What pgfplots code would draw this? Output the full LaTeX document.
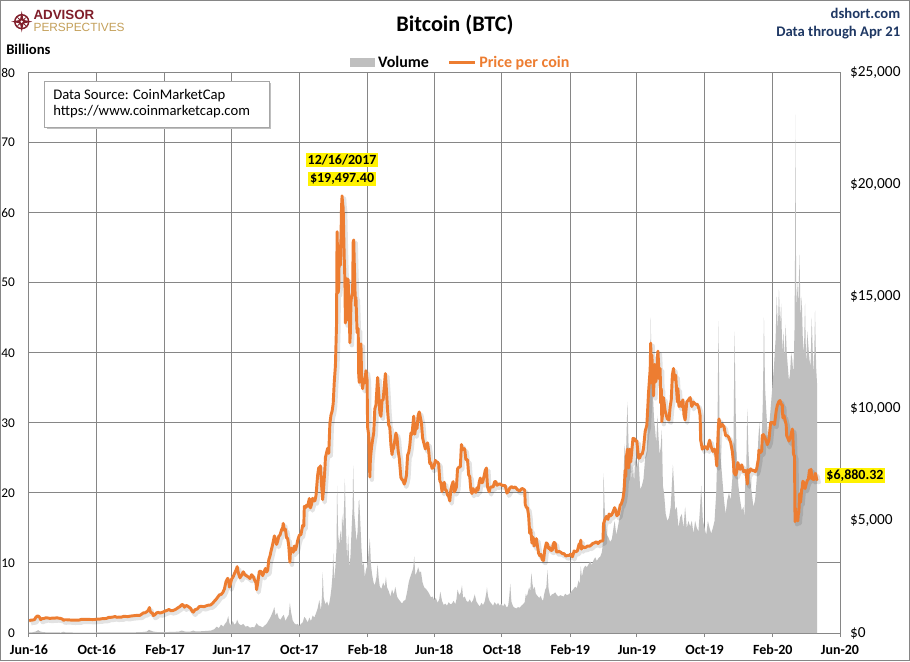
\documentclass[border=0pt]{standalone}
\usepackage{fontspec}
\setmainfont{Carlito}
\newfontfamily\arialfont{Liberation Sans}
\usepackage{pgfplots}
\pgfplotsset{compat=1.18}
\usepackage{pgfplotstable}
\definecolor{volgray}{RGB}{191,191,191}
\definecolor{btcorange}{RGB}{237,125,49}
\definecolor{gridgray}{RGB}{134,134,134}
\definecolor{navy}{RGB}{31,56,100}
\definecolor{apred}{RGB}{128,30,42}
\definecolor{apgold}{RGB}{196,160,90}

\pgfplotstableread{
d p
0 540
3 572
7 580
10 600
12 690
15 760
17 750
19 700
21 600
24 640
27 650
30 675
34 670
38 650
42 665
46 660
50 680
54 660
57 650
60 625
62 560
64 590
68 590
72 585
76 575
80 570
85 578
90 575
94 605
98 610
102 608
108 606
114 600
118 603
122 615
127 617
132 640
136 640
140 655
144 700
148 700
152 715
155 735
158 700
162 710
166 705
170 740
174 740
178 730
183 755
188 770
192 780
196 790
200 790
204 860
206 895
209 900
211 930
213 963
215 1020
217 1135
218 1000
220 900
222 905
224 780
227 820
230 900
233 920
236 890
240 920
245 975
249 1010
252 1050
256 990
260 1010
264 1050
268 1120
272 1180
275 1260
277 1270
280 1150
283 1230
287 1180
291 1100
294 970
296 930
299 1040
303 1070
307 1180
311 1190
315 1170
319 1210
323 1240
327 1250
331 1330
334 1420
337 1500
340 1600
343 1700
346 1720
349 1800
352 1960
355 2300
358 2440
360 2300
361 2050
363 2200
365 2400
368 2520
371 2700
374 2870
375 2960
377 2690
380 2460
383 2580
386 2730
389 2590
392 2550
395 2500
398 2430
401 2600
404 2510
407 2330
409 2230
410 1930
412 2230
414 2580
415 2750
418 2750
421 2560
424 2760
426 2880
428 2720
430 2800
432 3280
434 3420
436 3650
438 3850
440 4080
442 4330
444 4180
446 3950
448 4090
450 4320
452 4360
455 4600
457 4700
458 4890
460 4580
462 4630
464 4230
466 4230
468 3870
470 3160
471 3640
473 3780
476 3600
478 3880
480 3700
482 3880
484 4130
487 4360
490 4400
493 4800
495 4770
496 5650
498 5590
500 5700
502 5650
505 6000
507 5580
509 5740
511 6010
513 5900
515 5890
517 6130
519 6740
520 7040
522 7380
524 7150
525 7460
527 6620
529 5950
531 6560
533 7300
534 7820
536 8040
538 8240
540 8010
542 9330
544 9720
546 9890
548 10230
550 11220
552 11920
554 13750
555 17900
556 16570
557 15180
558 15460
559 17100
560 17280
561 16400
562 17560
563 19000
564 19497
565 19140
566 18960
567 17710
568 16620
569 15800
570 13830
571 14700
572 13930
573 15800
575 15750
576 14600
577 14650
578 12950
579 13440
580 14750
581 15000
583 15200
584 17430
585 17530
586 16480
588 14600
589 14970
591 13400
593 13580
594 11490
595 11180
597 11250
598 12900
599 11600
601 10900
603 11300
605 11170
607 11700
609 11300
610 9170
612 8830
614 6955
615 7750
617 8280
619 8620
621 8930
623 10000
625 10170
628 11400
630 10690
632 9830
634 9660
636 10370
638 10400
640 11000
642 11570
644 10800
646 9910
648 9280
650 9170
652 8370
654 7960
655 8160
657 8260
659 8590
661 8920
663 8710
665 8130
667 7800
670 6930
672 6840
674 6810
676 6640
678 6780
680 7040
682 7930
684 8050
686 8360
688 8920
690 8860
693 9670
695 8870
697 9250
699 9120
701 9700
703 9860
705 9620
707 9370
709 8710
711 8500
714 8210
716 8370
718 8480
720 8130
722 7560
724 7590
726 7350
728 7370
730 7470
732 7700
734 7630
736 7620
738 7540
740 6790
742 6700
744 6310
746 6600
748 6720
750 6380
752 6360
754 6150
756 6110
758 5890
760 6410
762 6600
764 6750
766 6290
768 6380
770 6510
772 7320
774 7390
777 7410
779 8410
781 8180
783 8230
785 8200
787 7730
790 7730
792 7050
794 6980
796 6370
798 6220
800 6440
802 6310
805 6280
807 6480
809 6370
811 6720
813 6910
815 6710
817 6700
820 7020
822 7260
824 7360
826 6520
829 6300
831 6490
833 6520
836 6510
839 6760
841 6750
843 6590
846 6630
849 6650
852 6590
855 6580
858 6570
861 6240
864 6350
866 6460
869 6530
872 6480
876 6510
880 6390
884 6340
888 6450
891 6410
893 6370
894 5730
896 5600
898 5580
900 5240
902 4450
904 4610
906 4010
908 4270
910 3880
912 4010
914 4210
916 3880
918 3560
920 3450
922 3510
925 3250
927 3240
929 3690
932 4020
934 3970
936 3770
938 3810
940 3680
943 3700
944 3940
946 4040
948 4000
950 3630
952 3610
955 3640
958 3600
961 3540
964 3540
967 3430
970 3460
973 3460
976 3520
979 3400
982 3660
985 3620
988 3670
991 3970
993 3940
994 4140
995 3740
997 3860
1000 3810
1003 3820
1006 3880
1010 3870
1013 3930
1016 4000
1019 4020
1022 4070
1025 3990
1029 4090
1033 4110
1034 4150
1035 4880
1037 5030
1040 5200
1043 5070
1045 5310
1047 5220
1050 5280
1053 5460
1055 5590
1057 5450
1059 5230
1062 5300
1065 5700
1067 5760
1070 5990
1072 6350
1074 7260
1075 6970
1076 7820
1077 7990
1078 8200
1079 7880
1080 7360
1082 8200
1084 7630
1085 7880
1088 8680
1091 8660
1093 8550
1095 8560
1098 7800
1100 7800
1102 7950
1105 8000
1107 8230
1110 8990
1113 9270
1115 10200
1116 10700
1119 11760
1120 12930
1121 11160
1122 12400
1123 11900
1125 10580
1127 11980
1129 11200
1131 11450
1132 12270
1133 12570
1134 12100
1135 11350
1137 11800
1138 10250
1139 10900
1140 9430
1141 9670
1143 10500
1146 9900
1150 9550
1153 9500
1155 10080
1157 10400
1159 11500
1161 11800
1163 11300
1165 11500
1168 10300
1169 10900
1171 10100
1173 10300
1175 10100
1178 10400
1180 9700
1182 9500
1185 10300
1188 10400
1191 10500
1194 10100
1197 10300
1201 10200
1204 10200
1207 10000
1209 9700
1210 8600
1213 8200
1216 8300
1219 8300
1222 8200
1226 8600
1229 8300
1232 8100
1235 8200
1237 8000
1239 7450
1241 8660
1242 9250
1243 9550
1246 9200
1249 9300
1252 9200
1255 8800
1258 8800
1260 8750
1264 8500
1267 8100
1269 7600
1270 7150
1273 7050
1275 7200
1277 7600
1279 7400
1281 7300
1284 7500
1287 7200
1290 7250
1292 7150
1293 6880
1294 6640
1295 7280
1297 7150
1300 7320
1303 7250
1306 7250
1308 7200
1309 7200
1311 7340
1314 7770
1315 8160
1317 8040
1320 8110
1321 8810
1323 8850
1326 8700
1329 8500
1330 8400
1333 8600
1336 9390
1340 9390
1343 9300
1346 9900
1348 10150
1351 10330
1353 10370
1355 10200
1357 10180
1358 9600
1360 9700
1364 9300
1365 8800
1367 8700
1369 8560
1372 8750
1375 9100
1376 8900
1377 8040
1378 7920
1379 7900
1380 4970
1381 5560
1382 5200
1384 5360
1385 5000
1386 5330
1387 5400
1388 6190
1389 6200
1390 5830
1392 6400
1393 6480
1394 6770
1396 6700
1398 6440
1400 6640
1402 6800
1404 6860
1406 7270
1407 7200
1409 7300
1410 6880
1412 6900
1413 6840
1415 6870
1416 7100
1417 7110
1419 6840
1420 6880
}\pricetable

\pgfplotstableread{
d v
0 0.09
6 0.10
12 0.20
15 0.35
17 0.40
20 0.22
25 0.13
32 0.09
45 0.08
58 0.07
62 0.18
66 0.09
80 0.07
100 0.06
120 0.07
140 0.09
150 0.08
170 0.09
190 0.10
205 0.14
212 0.20
216 0.45
219 0.35
224 0.20
232 0.12
245 0.13
260 0.16
270 0.20
275 0.35
280 0.22
290 0.18
296 0.35
300 0.22
310 0.25
320 0.30
328 0.35
334 0.55
338 0.90
342 0.70
346 1.20
350 0.90
353 1.30
356 1.60
359 2.40
361 1.40
364 1.10
367 1.70
370 1.20
373 1.40
375 1.90
378 1.30
382 1.10
386 1.30
390 0.90
394 1.00
398 0.75
402 0.85
406 0.80
410 1.40
413 1.10
417 0.95
421 0.80
425 1.10
428 1.30
431 1.70
434 2.10
437 2.60
440 3.20
442 3.70
444 2.50
447 2.90
450 2.10
453 1.90
456 2.30
459 2.60
462 1.70
465 2.20
468 2.60
470 4.30
472 3.00
475 1.80
478 1.40
481 1.20
484 1.30
487 1.00
490 1.30
493 1.50
496 2.30
499 2.00
502 1.50
505 2.20
508 1.70
511 2.50
514 2.20
517 2.80
520 3.50
523 4.70
526 3.20
528 5.50
529 8.70
531 5.00
534 4.10
537 4.50
540 3.80
543 5.20
545 6.50
547 8.50
548 11.40
550 7.50
552 9.50
554 12.00
555 21.00
557 14.00
559 12.50
561 14.70
563 12.80
564 16.90
566 15.00
568 19.00
569 22.00
571 15.00
573 10.50
575 14.00
577 9.50
579 10.80
581 14.50
583 18.00
584 23.90
586 17.00
588 15.20
590 13.00
592 14.50
594 18.80
595 19.00
597 15.50
599 12.00
601 9.50
603 10.00
605 8.00
607 9.00
609 9.50
611 10.80
613 12.50
614 13.50
616 9.80
618 8.40
620 7.50
622 6.80
624 7.20
626 8.00
628 9.80
630 7.80
632 6.60
635 6.30
638 7.20
641 6.60
643 8.00
645 6.50
648 6.00
651 5.20
654 6.20
657 5.50
660 6.60
663 5.20
666 4.80
669 4.50
672 4.20
675 4.60
678 4.70
681 5.80
684 7.20
686 7.80
689 8.50
692 9.20
694 10.90
696 8.20
699 8.80
701 9.40
704 8.60
706 8.80
709 7.20
712 6.50
715 6.30
718 6.00
721 5.60
724 5.10
727 5.20
730 4.70
733 5.00
736 4.30
739 4.80
741 5.90
744 4.60
747 4.00
750 4.20
753 3.90
756 4.40
759 4.10
762 4.20
765 4.60
768 4.10
770 4.80
772 6.20
775 5.40
778 5.80
780 6.80
782 5.00
785 5.20
788 4.60
791 4.40
794 4.80
797 4.30
800 4.70
803 5.50
806 4.50
809 4.10
812 3.80
815 4.30
818 4.00
821 4.50
824 5.80
825 6.50
827 5.20
830 4.50
833 4.20
836 3.90
839 4.40
842 4.00
845 4.30
848 3.90
851 4.20
854 3.80
857 4.20
860 3.70
863 3.80
865 5.00
867 7.00
869 4.50
872 3.80
875 3.60
878 3.50
881 3.70
884 3.60
887 3.90
890 4.10
893 4.40
895 5.60
897 5.20
899 5.90
901 6.50
903 6.00
905 8.60
907 7.00
909 6.20
911 6.60
913 5.60
916 5.30
919 5.00
922 5.30
924 4.80
926 4.60
928 5.50
930 6.20
932 6.50
934 9.00
936 6.30
939 5.20
942 5.50
945 5.60
948 5.80
951 5.40
954 5.20
957 5.40
960 5.30
963 5.20
966 5.60
969 5.40
972 5.50
975 5.70
978 6.00
981 6.30
984 6.60
987 6.40
990 7.50
992 7.00
994 9.50
996 8.00
999 9.20
1002 9.60
1005 9.40
1008 9.80
1011 10.20
1014 9.70
1017 10.40
1020 10.80
1023 10.30
1026 10.70
1029 10.90
1032 11.50
1034 13.00
1035 22.80
1037 18.00
1039 15.50
1041 14.00
1044 13.60
1047 13.00
1050 13.40
1053 15.00
1055 16.00
1058 14.00
1061 15.20
1064 16.50
1067 17.50
1069 19.50
1071 22.00
1073 27.00
1075 24.00
1077 30.00
1078 33.00
1080 27.00
1082 24.50
1084 25.50
1086 22.00
1088 24.00
1090 21.50
1092 25.00
1095 23.50
1098 25.00
1101 20.50
1104 21.00
1107 22.00
1110 25.00
1113 26.00
1115 30.00
1117 33.50
1119 37.00
1120 45.00
1122 36.00
1124 34.00
1126 30.50
1128 29.00
1130 27.00
1132 31.00
1134 28.00
1136 25.50
1138 26.50
1140 29.00
1142 21.00
1144 20.00
1147 17.00
1150 16.00
1153 16.50
1156 18.00
1158 21.00
1160 24.00
1162 21.00
1164 17.50
1167 18.00
1170 15.00
1173 16.50
1176 17.00
1179 15.00
1182 18.00
1185 15.00
1188 16.00
1191 15.20
1194 16.00
1197 14.20
1200 16.00
1203 15.00
1206 14.50
1209 18.00
1211 21.00
1214 16.00
1217 15.00
1220 14.00
1223 16.00
1226 15.00
1229 14.20
1232 15.00
1235 16.00
1238 20.00
1240 26.00
1242 44.50
1244 30.00
1246 25.00
1249 22.00
1252 19.00
1255 17.00
1258 19.00
1261 20.00
1264 19.00
1267 22.00
1269 26.00
1271 43.00
1273 32.00
1275 24.00
1278 21.00
1281 19.00
1284 17.50
1287 18.00
1289 16.50
1290 21.00
1292 23.00
1294 32.00
1296 26.00
1299 22.00
1302 20.00
1305 18.00
1308 19.00
1311 22.00
1314 28.00
1316 30.00
1318 26.00
1320 28.00
1322 33.00
1324 45.00
1326 35.00
1328 32.00
1331 28.00
1334 30.00
1337 33.00
1340 36.00
1342 38.00
1345 42.00
1347 48.00
1349 43.00
1351 49.00
1353 44.00
1355 47.00
1357 40.00
1359 43.00
1361 39.00
1363 44.00
1365 40.00
1367 38.00
1369 36.00
1371 37.00
1373 40.00
1375 39.00
1377 37.00
1379 43.00
1380 54.00
1381 74.00
1382 46.00
1384 50.00
1386 47.00
1388 54.00
1390 45.00
1392 48.00
1394 42.00
1396 40.00
1398 47.00
1400 38.00
1402 43.00
1404 41.00
1406 39.00
1408 38.00
1410 45.00
1412 40.00
1414 37.00
1416 46.00
1418 38.00
1420 35.00
}\voltable

\begin{document}
\begin{tikzpicture}[x=1pt,y=1pt]
\useasboundingbox (0,0) rectangle (682.5,495.75);
\fill[white] (0,0) rectangle (682.5,495.75);
\draw[gridgray, line width=0.75pt] (0.375,0.375) rectangle (682.125,495.375);

% ---- volume axis (left) ----
\begin{axis}[
  at={(21.75pt,21pt)}, anchor=south west,
  scale only axis, width=608.25pt, height=420.375pt,
  xmin=0, xmax=1461, ymin=0, ymax=80,
  xtick={0,122,245,365,487,610,730,852,975,1095,1217,1340,1461},
  xticklabels={Jun-16,Oct-16,Feb-17,Jun-17,Oct-17,Feb-18,Jun-18,Oct-18,Feb-19,Jun-19,Oct-19,Feb-20,Jun-20},
  ytick={0,10,20,30,40,50,60,70,80},
  yticklabels={0,10,20,30,40,50,60,70,80},
  xtick pos=bottom, ytick pos=left,
  tick align=outside, major tick length=3pt,
  ytick style={draw=none},
  xtick style={gridgray, line width=0.75pt},
  grid=major, grid style={gridgray, line width=0.75pt},
  axis line style={gridgray, line width=0.75pt},
  xticklabel style={font=\bfseries\fontsize{10.5}{12}\selectfont, yshift=-2.5pt},
  yticklabel style={font=\fontsize{10}{12}\selectfont, xshift=-4pt},
]
\addplot[fill=volgray, draw=none] table[x=d,y=v]{\voltable} \closedcycle;
\end{axis}

% ---- price axis (right) ----
\begin{axis}[
  at={(21.75pt,21pt)}, anchor=south west,
  scale only axis, width=608.25pt, height=420.375pt,
  xmin=0, xmax=1461, ymin=0, ymax=25000,
  hide x axis,
  axis y line*=right,
  axis line style={draw=none},
  scaled y ticks=false,
  ytick={0,5000,10000,15000,20000,25000},
  yticklabels={{\$0},{\$5,000},{\$10,000},{\$15,000},{\$20,000},{\$25,000}},
  ytick style={draw=none},
  yticklabel style={font=\fontsize{11.5}{13}\selectfont, xshift=4pt},
  legend style={draw=none, fill=none, at={(0.533,1.018)}, anchor=center,
    font=\bfseries\fontsize{12}{14}\selectfont,
    /tikz/every even column/.append style={column sep=12pt}},
  legend columns=2,
]
\addlegendimage{fill=volgray, draw=none, legend image code/.code={\fill[volgray] (0pt,-3.4pt) rectangle (18.75pt,3.4pt);}}
\addlegendentry{Volume}
\addplot[forget plot, draw=black, opacity=0.11, line width=3.2pt, line join=round, xshift=1.5pt, yshift=-2pt] table[x=d,y=p]{\pricetable};
\addplot[draw=btcorange, line width=2.2pt, line join=round,
  legend image code/.code={\draw[btcorange, line width=2.2pt] (0pt,0pt) -- (19.5pt,0pt);}] table[x=d,y=p]{\pricetable};
\addlegendentry{\textcolor{btcorange}{Price per coin}}
\coordinate (peak) at (axis cs:564,19497);
\coordinate (last) at (axis cs:1420,6880);
\end{axis}

% annotations
\node[fill=yellow, inner sep=1.2pt, font=\bfseries\fontsize{10.5}{12}\selectfont] at ([yshift=12.5pt]peak) {\$19,497.40};
\node[fill=yellow, inner sep=1.2pt, font=\bfseries\fontsize{10.5}{12}\selectfont] at ([yshift=26.8pt]peak) {12/16/2017};
\node[fill=yellow, inner sep=1.2pt, font=\bfseries\fontsize{10.5}{12}\selectfont, anchor=west] at ([xshift=5.5pt,yshift=2.2pt]last) {\$6,880.32};

% data source box
\fill[black!25] (35.2,398.8) rectangle (203.5,433.5);
\filldraw[fill=white, draw=black!35, line width=0.6pt] (33.2,400.3) rectangle (202,435);
\node[anchor=base west, inner sep=0pt, font=\fontsize{11}{13}\selectfont] at (39.75,421.1) {Data Source: CoinMarketCap};
\node[anchor=base west, inner sep=0pt, font=\fontsize{11}{13}\selectfont] at (39.75,408.75) {https://www.coinmarketcap.com};

% titles
\node[anchor=base, inner sep=0pt, font=\bfseries\fontsize{16.7}{19}\selectfont] at (341.25,472) {Bitcoin (BTC)};
\node[anchor=base west, inner sep=0pt, font=\bfseries\fontsize{11}{13}\selectfont] at (4.5,454.5) {Billions};
\node[anchor=base east, inner sep=0pt, font=\bfseries\fontsize{11}{13}\selectfont, text=navy] at (675.4,482.0) {dshort.com};
\node[anchor=base east, inner sep=0pt, font=\bfseries\fontsize{11}{13}\selectfont, text=navy] at (675.4,468.2) {Data through Apr 21};

% logo
\begin{scope}[shift={(16.3,479.5)}]
  \draw[apred, line width=1.1pt] (0,0) circle (5.2);
  \fill[apred] (0,8) -- (1.3,1.3) -- (8,0) -- (1.3,-1.3) -- (0,-8) -- (-1.3,-1.3) -- (-8,0) -- (-1.3,1.3) -- cycle;
  \fill[apred] (4.2,4.2) -- (0.9,0) -- (0,0.9) -- cycle;
  \fill[apred] (-4.2,4.2) -- (-0.9,0) -- (0,0.9) -- cycle;
  \fill[apred] (4.2,-4.2) -- (0.9,0) -- (0,-0.9) -- cycle;
  \fill[apred] (-4.2,-4.2) -- (-0.9,0) -- (0,-0.9) -- cycle;
  \fill[white] (0,0) circle (1.0);
\end{scope}
\node[anchor=base west, inner sep=0pt, text=apred, font=\arialfont\bfseries\fontsize{10}{11}\selectfont] at (25,480.8) {ADVISOR};
\node[anchor=base west, inner sep=0pt, text=apgold, font=\arialfont\fontsize{8.9}{10}\selectfont] at (25,472.4) {PERSPECTIVES};
\end{tikzpicture}
\end{document}
